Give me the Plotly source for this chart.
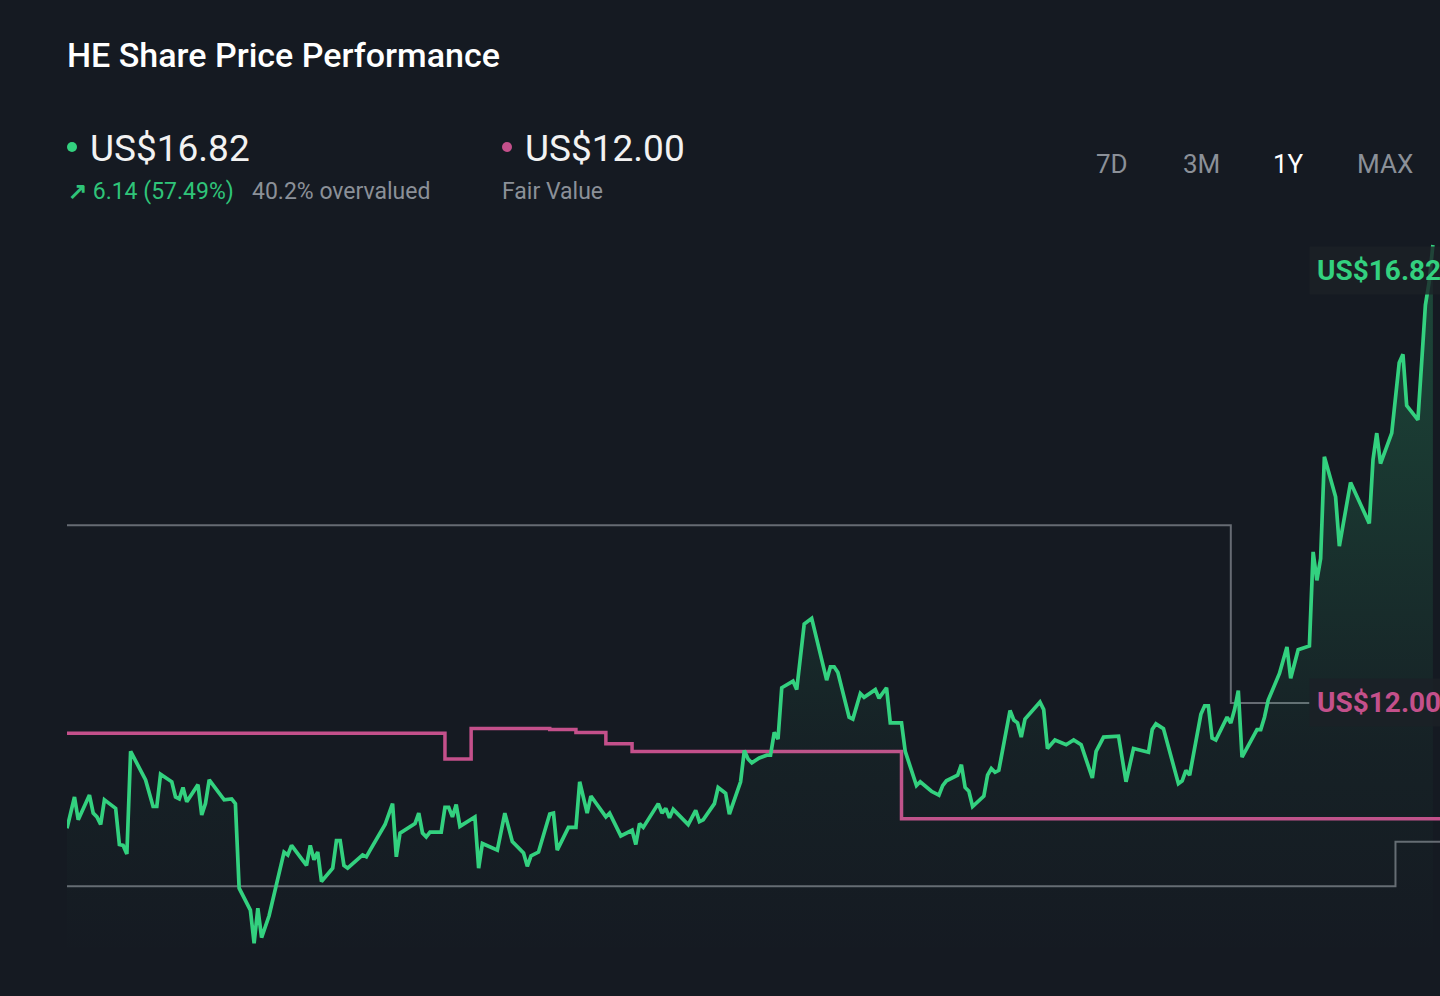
#!/usr/bin/env python3
"""HE share price vs fair value, 1Y view, dark card style."""

import plotly.graph_objects as go

# ---- data (day offsets over the 1Y window, prices in US$) ----
PRICE_DAYS = [
    0, 2, 3, 6, 7, 8, 9, 10, 13, 14, 15, 16, 17, 19, 21, 23, 24, 25, 28, 29,
    30, 31, 32, 35, 36, 37, 38, 42, 44, 45, 46, 49, 50, 51, 52, 54, 56, 58, 59, 60,
    64, 65, 66, 67, 68, 71, 72, 73, 74, 75, 79, 80, 81, 85, 87, 88, 89, 93, 94, 95,
    96, 97, 100, 101, 102, 103, 104, 105, 109, 110, 111, 115, 117, 119, 122, 123, 124, 126, 129, 130,
    131, 134, 136, 137, 139, 140, 144, 145, 148, 151, 152, 153, 154, 158, 159, 160, 161, 162, 166, 168,
    169, 170, 173, 174, 176, 177, 180, 181, 182, 183, 185, 187, 188, 189, 190, 191, 194, 195, 197, 199,
    203, 204, 205, 206, 209, 210, 212, 213, 216, 217, 219, 220, 223, 224, 227, 228, 231, 233, 234, 235,
    238, 239, 240, 241, 242, 245, 246, 247, 248, 249, 252, 253, 254, 255, 256, 260, 261, 262, 264, 267,
    269, 271, 274, 275, 277, 281, 283, 285, 289, 290, 291, 293, 297, 298, 299, 300, 303, 304, 305, 306,
    307, 310, 311, 312, 313, 314, 318, 319, 320, 321, 324, 326, 327, 329, 332, 333, 334, 335, 336, 339,
    340, 343, 348, 349, 350, 351, 354, 355, 356, 357, 358, 361, 363, 364, 365,
]
PRICE = [
    10.68, 11.01, 10.77, 11.03, 10.84, 10.80, 10.72, 10.98, 10.89, 10.51, 10.50, 10.41, 11.49, 11.35, 11.19, 10.91, 10.91, 11.25, 11.17, 11.01,
    10.99, 11.11, 10.96, 11.14, 10.82, 10.94, 11.19, 10.98, 10.99, 10.94, 10.05, 9.82, 9.47, 9.84, 9.53, 9.76, 10.10, 10.43, 10.40, 10.50,
    10.29, 10.50, 10.35, 10.43, 10.12, 10.26, 10.55, 10.55, 10.29, 10.26, 10.40, 10.38, 10.45, 10.72, 10.94, 10.38, 10.63, 10.73, 10.84, 10.63,
    10.59, 10.64, 10.64, 10.90, 10.90, 10.80, 10.93, 10.70, 10.80, 10.26, 10.52, 10.45, 10.84, 10.54, 10.42, 10.28, 10.39, 10.43, 10.83, 10.84,
    10.45, 10.69, 10.69, 11.17, 10.84, 11.02, 10.80, 10.84, 10.60, 10.66, 10.51, 10.73, 10.69, 10.94, 10.84, 10.89, 10.79, 10.88, 10.72, 10.87,
    10.75, 10.77, 10.94, 11.11, 11.05, 10.83, 11.17, 11.50, 11.41, 11.37, 11.42, 11.45, 11.45, 11.69, 11.62, 12.16, 12.23, 12.14, 12.83, 12.89,
    12.24, 12.38, 12.38, 12.32, 11.85, 11.83, 12.10, 12.06, 12.14, 12.05, 12.16, 11.79, 11.79, 11.49, 11.13, 11.17, 11.07, 11.03, 11.13, 11.18,
    11.24, 11.35, 11.11, 11.07, 10.91, 11.02, 11.24, 11.31, 11.27, 11.29, 11.92, 11.82, 11.79, 11.64, 11.83, 12.01, 11.93, 11.52, 11.61, 11.56,
    11.61, 11.56, 11.21, 11.49, 11.64, 11.65, 11.17, 11.52, 11.48, 11.72, 11.78, 11.73, 11.15, 11.18, 11.29, 11.24, 11.88, 11.97, 11.97, 11.63,
    11.61, 11.85, 11.79, 11.93, 12.13, 11.43, 11.72, 11.72, 11.85, 12.03, 12.31, 12.59, 12.26, 12.56, 12.60, 13.59, 13.29, 13.52, 14.59, 14.17,
    13.65, 14.32, 13.89, 14.56, 14.84, 14.52, 14.84, 15.21, 15.58, 15.67, 15.13, 14.98, 16.19, 16.43, 16.82,
]

FAIR_VALUE_DAYS = [0, 101, 108, 129, 136, 144, 151, 223, 367]
FAIR_VALUE = [11.68, 11.41, 11.73, 11.72, 11.69, 11.57, 11.49, 10.78, 10.78]

UPPER_DAYS = [0, 311, 332]
UPPER = [13.87, 12.00, 12.00]
LOWER_DAYS = [0, 355, 367]
LOWER = [10.07, 10.54, 10.54]

LAST_PRICE = "US$16.82"
FAIR_LABEL = "US$12.00"
CHANGE = "6.14 (57.49%)"
VALUATION_TEXT = "40.2% overvalued"
RANGES = ["7D", "3M", "1Y", "MAX"]
ACTIVE_RANGE = "1Y"

# ---- style ----
BG = "#151a22"
GREEN = "#33d17f"
GREEN_TXT = "#2fc479"
PINK = "#c4508b"
GREY_LINE = "#666b73"
GREY_TXT = "#8b9098"
FONT = "Roboto"

W, H = 1440, 996
L, R, T, B = 67, 0, 215, 36
X_RANGE = [0, 366.9]
Y_RANGE = [9.294, 17.136]


def px(x):
    return (x - L) / (W - L - R)


def py(y):
    return (H - B - y) / (H - T - B)


fig = go.Figure()

fig.add_trace(go.Scatter(
    x=UPPER_DAYS, y=UPPER, mode="lines", line=dict(color=GREY_LINE, width=2, shape="hv"),
    hoverinfo="skip",
))
fig.add_trace(go.Scatter(
    x=LOWER_DAYS, y=LOWER, mode="lines", line=dict(color=GREY_LINE, width=2, shape="hv"),
    hoverinfo="skip",
))
fig.add_trace(go.Scatter(
    x=FAIR_VALUE_DAYS, y=FAIR_VALUE, mode="lines", name="Fair Value",
    line=dict(color=PINK, width=3.5, shape="hv"),
))
fig.add_trace(go.Scatter(
    x=PRICE_DAYS, y=PRICE, mode="lines", name="Share Price",
    line=dict(color=GREEN, width=3.7),
    fill="tozeroy",
    fillgradient=dict(
        type="vertical", start=9.3, stop=16.82,
        colorscale=[[0, "rgba(51,209,127,0)"], [0.3, "rgba(51,209,127,0.04)"],
                    [1, "rgba(51,209,127,0.26)"]],
    ),
))

annotations = [
    dict(text="HE Share Price Performance", x=px(65), y=py(55),
         font=dict(size=34, color="#ffffff", family=FONT, weight=500)),
    dict(text=LAST_PRICE, x=px(88), y=py(148),
         font=dict(size=37, color="#f2f2f2", family=FONT)),
    dict(text=f"<b>↗</b> {CHANGE}", x=px(66), y=py(192),
         font=dict(size=23, color=GREEN_TXT, family=FONT)),
    dict(text=VALUATION_TEXT, x=px(250), y=py(192),
         font=dict(size=23, color=GREY_TXT, family=FONT)),
    dict(text=FAIR_LABEL, x=px(523), y=py(148),
         font=dict(size=37, color="#f2f2f2", family=FONT)),
    dict(text="Fair Value", x=px(500), y=py(192),
         font=dict(size=23, color=GREY_TXT, family=FONT)),
]
for a in annotations:
    a.update(xref="paper", yref="paper", xanchor="left", yanchor="middle", showarrow=False)

for label, cx in zip(RANGES, [1112, 1201, 1288, 1385]):
    annotations.append(dict(
        text=label, xref="paper", yref="paper", x=px(cx), y=py(164),
        xanchor="center", yanchor="middle", showarrow=False,
        font=dict(size=26, family=FONT,
                  color="#ffffff" if label == ACTIVE_RANGE else GREY_TXT),
    ))

# value tags at the right edge
for text, yv, col in [(LAST_PRICE, PRICE[-1] - 0.27, GREEN), (FAIR_LABEL, UPPER[-1], PINK)]:
    annotations.append(dict(
        text=f"<b>{text}</b>", xref="x", yref="y", x=UPPER_DAYS[-1], y=yv,
        xanchor="left", yanchor="middle", showarrow=False,
        bgcolor="rgba(27,32,39,0.8)", borderpad=7,
        font=dict(size=28, family=FONT, color=col),
    ))

shapes = []
for cx, col in [(72, GREEN), (507, PINK)]:
    shapes.append(dict(
        type="circle", xref="paper", yref="paper", xsizemode="pixel", ysizemode="pixel",
        xanchor=px(cx), yanchor=py(147), x0=-5, x1=5, y0=-5, y1=5,
        fillcolor=col, line=dict(width=0),
    ))

fig.update_layout(
    width=W, height=H,
    margin=dict(l=L, r=R, t=T, b=B),
    paper_bgcolor=BG, plot_bgcolor=BG,
    showlegend=False,
    annotations=annotations,
    shapes=shapes,
    hovermode="x",
    font=dict(family=FONT),
)
fig.update_xaxes(range=X_RANGE, visible=False, showgrid=False, zeroline=False)
fig.update_yaxes(range=Y_RANGE, visible=False, showgrid=False, zeroline=False)

# drop the default page margin so the card sits flush with the window
fig.write_html(
    "out.html",
    config={"displayModeBar": False},
    post_script="document.body.style.margin='0';document.body.style.background='%s';" % BG,
)
